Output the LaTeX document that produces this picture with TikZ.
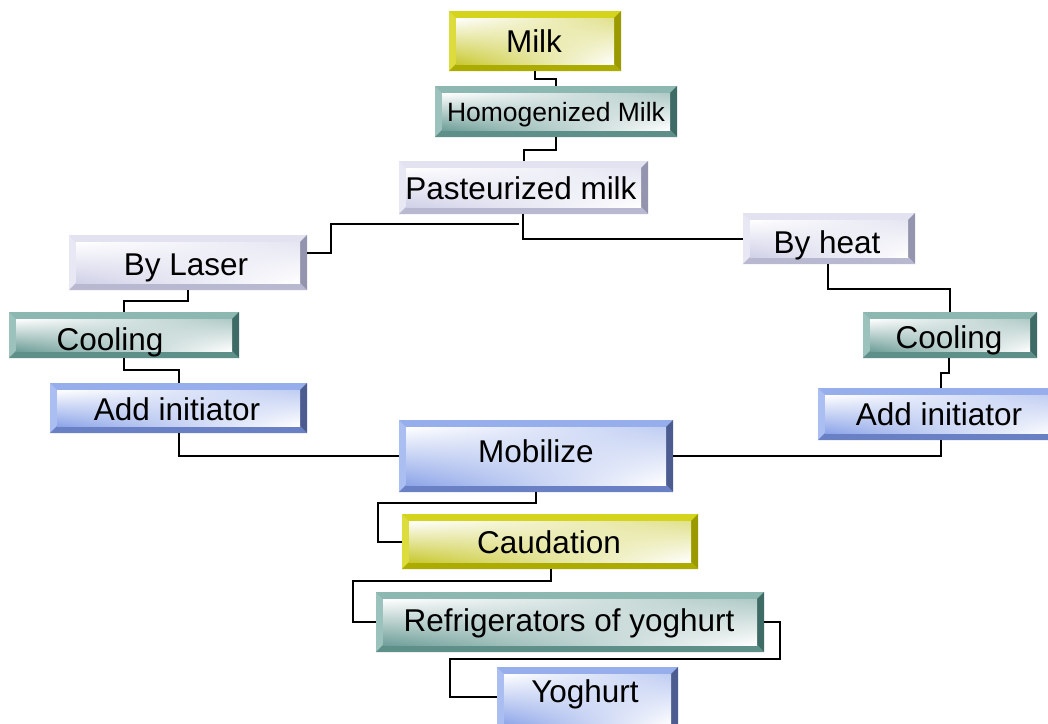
\documentclass[tikz,border=0pt]{standalone}
\usepackage{fontspec}
\setmainfont{Liberation Sans}
\usetikzlibrary{calc,shadings}
\definecolor{yBase}{HTML}{C8C800}\definecolor{yTop}{HTML}{D4D41C}\definecolor{yLeft}{HTML}{DCDC3C}\definecolor{yRight}{HTML}{9A9A00}\definecolor{yBot}{HTML}{ABAB00}\definecolor{yIn}{HTML}{C8C830}
\definecolor{tBase}{HTML}{6E9E98}\definecolor{tTop}{HTML}{8DB8B2}\definecolor{tLeft}{HTML}{9CC2BD}\definecolor{tRight}{HTML}{3F6B66}\definecolor{tBot}{HTML}{5E8F89}\definecolor{tIn}{HTML}{6E9E98}
\definecolor{lBase}{HTML}{C8C8DC}\definecolor{lTop}{HTML}{E2E2F0}\definecolor{lLeft}{HTML}{E8E8F4}\definecolor{lRight}{HTML}{9494AE}\definecolor{lBot}{HTML}{B8B8D0}\definecolor{lIn}{HTML}{D0D0E8}
\definecolor{bBase}{HTML}{8CA4E8}\definecolor{bTop}{HTML}{96AEEC}\definecolor{bLeft}{HTML}{AABEF2}\definecolor{bRight}{HTML}{4C5C90}\definecolor{bBot}{HTML}{6A80C4}\definecolor{bIn}{HTML}{8CA4E8}
\tikzset{
  boxnode/.style={inner sep=0pt, outer sep=0pt},
  lbl/.style={anchor=base, inner sep=0pt, font=\fontsize{31.5}{34}\selectfont},
  lblsmall/.style={anchor=base, inner sep=0pt, font=\fontsize{26.5}{29}\selectfont},
  conn/.style={draw=black, line width=2pt}
}
% #1 name, #2 x1, #3 y1, #4 x2, #5 y2, #6 colour prefix
\newcommand\bevbox[6]{%
  \pgfmathsetmacro\bbw{#4-#2}\pgfmathsetmacro\bbh{#5-#3}%
  \node[boxnode, minimum width=\bbw pt, minimum height=\bbh pt, fill=#6Base] (#1) at ({(#2+#4)/2},{(#3+#5)/2}) {};
  \fill[#6Top] (#1.north west) -- (#1.north east) -- ++(-7,7) -- ($(#1.north west)+(7,7)$) -- cycle;
  \fill[#6Left] (#1.north west) -- ++(7,7) -- ($(#1.south west)+(7,-7)$) -- (#1.south west) -- cycle;
  \fill[#6Right] (#1.north east) -- (#1.south east) -- ++(-7,-7) -- ($(#1.north east)+(-7,7)$) -- cycle;
  \fill[#6Bot] (#1.south west) -- (#1.south east) -- ++(-7,-7) -- ($(#1.south west)+(7,-7)$) -- cycle;
  \shade[upper left=white, upper right=#6In!55, lower left=#6In, lower right=white] ($(#1.north west)+(7,7)$) rectangle ($(#1.south east)+(-7,-7)$);
}
\begin{document}
\begin{tikzpicture}[x=1pt,y=-1pt]
\useasboundingbox (0,0) rectangle (1048,723);
\clip (0,0) rectangle (1048,723);
\fill[white] (0,0) rectangle (1048,723);
% boxes
\bevbox{milk}{449}{11}{621}{71}{y}
\bevbox{homog}{435}{86}{677}{137}{t}
\bevbox{past}{399}{161}{648}{214}{l}
\bevbox{laser}{69}{235}{307}{290}{l}
\bevbox{coolL}{9}{312}{239}{358}{t}
\bevbox{addL}{50}{383}{307}{433}{b}
\bevbox{heat}{743}{213}{915}{264}{l}
\bevbox{coolR}{863}{312}{1037}{358}{t}
\bevbox{addR}{818}{388}{1062}{440}{b}
\bevbox{mob}{399}{420}{673}{492}{b}
\bevbox{caud}{402}{514}{698}{569}{y}
\bevbox{refr}{376}{592}{764}{652}{t}
\bevbox{yog}{497}{667}{678}{732}{b}
% labels
\node[lbl] (milk-t) at (534,52) {Milk};
\node[lblsmall] (homog-t) at (556,121) {Homogenized Milk};
\node[lbl] (past-t) at (521,199) {Pasteurized milk};
\node[lbl] (laser-t) at (186,275) {By Laser};
\node[lbl] (coolL-t) at (110,350) {Cooling};
\node[lbl] (addL-t) at (177,420) {Add initiator};
\node[lbl] (heat-t) at (827,253) {By heat};
\node[lbl] (coolR-t) at (949,348) {Cooling};
\node[lbl] (addR-t) at (939,425) {Add initiator};
\node[lbl] (mob-t) at (536,462) {Mobilize};
\node[lbl] (caud-t) at (549,553) {Caudation};
\node[lbl] (refr-t) at (569,631) {Refrigerators of yoghurt};
\node[lbl] (yog-t) at (585,702) {Yoghurt};
% connectors
\draw[conn] (535,0 |- milk.south) -- (535,79) -- (556,79) -- (556,0 |- homog.north);
\draw[conn] (556,0 |- homog.south) -- (556,150) -- (524,150) -- (524,0 |- past.north);
\draw[conn] (523,0 |- past.south) -- (523,239) -- (heat.west |- 0,239);
\draw[conn] (519,224) -- (331,224) -- (331,253) -- (laser.east |- 0,253);
\draw[conn] (188,0 |- laser.south) -- (188,301) -- (124,301) -- (124,0 |- coolL.north);
\draw[conn] (124,0 |- coolL.south) -- (124,370) -- (179,370) -- (179,0 |- addL.north);
\draw[conn] (179,0 |- addL.south) -- (179,456) -- (mob.west |- 0,456);
\draw[conn] (mob.east |- 0,456) -- (941,456) -- (941,0 |- addR.south);
\draw[conn] (828,0 |- heat.south) -- (828,289) -- (950,289) -- (950,0 |- coolR.north);
\draw[conn] (949,0 |- coolR.south) -- (949,373) -- (941,373) -- (941,0 |- addR.north);
\draw[conn] (536,0 |- mob.south) -- (536,503) -- (378,503) -- (378,542) -- (caud.west |- 0,542);
\draw[conn] (551,0 |- caud.south) -- (551,581) -- (353,581) -- (353,622) -- (refr.west |- 0,622);
\draw[conn] (refr.east |- 0,622) -- (780,622) -- (780,659) -- (450,659) -- (450,697) -- (yog.west |- 0,697);
\end{tikzpicture}
\end{document}
